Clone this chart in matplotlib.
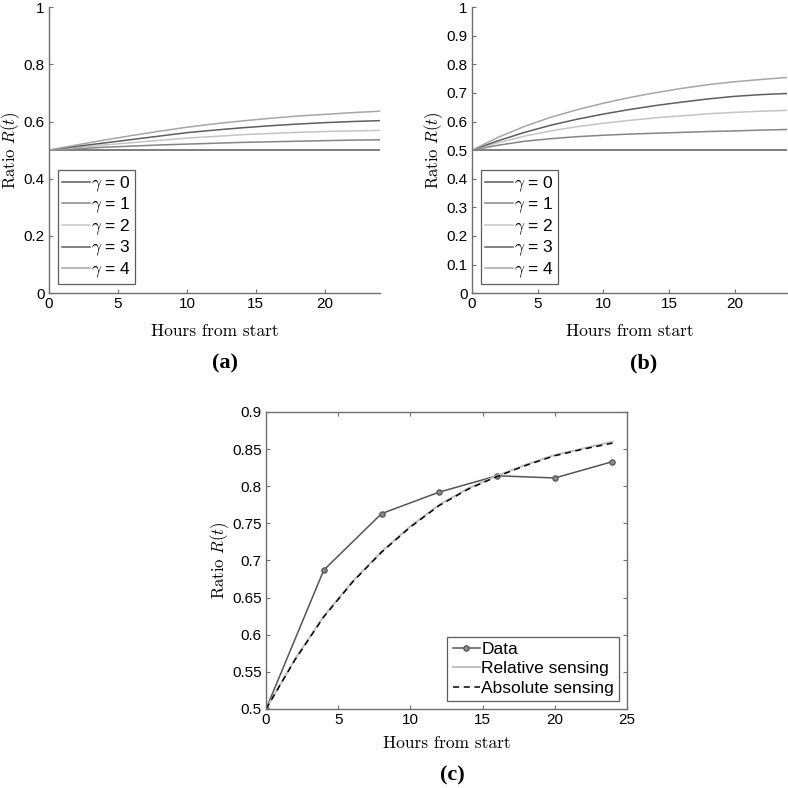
import matplotlib.pyplot as plt
import numpy as np

plt.rcParams['font.family'] = ['Liberation Sans', 'DejaVu Sans']
plt.rcParams['mathtext.fontset'] = 'cm'

# hours for the model curves
hours = [0, 2, 4, 6, 8, 10, 12, 14, 16, 18, 20, 22, 24]
gammas = [0, 1, 2, 3, 4]

# panel (a): R(t) for each gamma
ratio_a = [
    [0.5, 0.5, 0.5, 0.5, 0.5, 0.5, 0.5, 0.5, 0.5, 0.5, 0.5, 0.5, 0.5],
    [0.5, 0.505, 0.510, 0.514, 0.518, 0.521, 0.524, 0.527, 0.529, 0.531, 0.533, 0.535, 0.536],
    [0.5, 0.509, 0.518, 0.526, 0.534, 0.542, 0.548, 0.554, 0.558, 0.562, 0.565, 0.567, 0.569],
    [0.5, 0.513, 0.525, 0.537, 0.549, 0.561, 0.570, 0.578, 0.585, 0.591, 0.596, 0.600, 0.603],
    [0.5, 0.518, 0.535, 0.551, 0.566, 0.580, 0.592, 0.602, 0.611, 0.619, 0.625, 0.631, 0.636],
]

# panel (b): R(t) for each gamma
ratio_b = [
    [0.5, 0.5, 0.5, 0.5, 0.5, 0.5, 0.5, 0.5, 0.5, 0.5, 0.5, 0.5, 0.5],
    [0.5, 0.517, 0.531, 0.540, 0.547, 0.552, 0.556, 0.559, 0.562, 0.565, 0.567, 0.570, 0.572],
    [0.5, 0.526, 0.549, 0.567, 0.582, 0.594, 0.604, 0.613, 0.620, 0.627, 0.632, 0.636, 0.639],
    [0.5, 0.533, 0.562, 0.587, 0.608, 0.626, 0.642, 0.656, 0.668, 0.679, 0.688, 0.694, 0.698],
    [0.5, 0.545, 0.583, 0.615, 0.641, 0.664, 0.684, 0.701, 0.716, 0.729, 0.739, 0.747, 0.754],
]

# panel (c): measured data and model fits
data_hours = [0, 4, 8, 12, 16, 20, 24]
data_ratio = [0.5, 0.687, 0.763, 0.792, 0.814, 0.811, 0.833]
relative_fit = [0.5, 0.567, 0.625, 0.672, 0.712, 0.746, 0.775, 0.797, 0.814, 0.829, 0.842, 0.851, 0.860]
absolute_fit = [0.5, 0.566, 0.624, 0.671, 0.711, 0.745, 0.774, 0.796, 0.813, 0.828, 0.841, 0.850, 0.858]

gamma_colors = ['#5a5a5a', '#858585', '#c4c4c4', '#5e5e5e', '#a6a6a6']
axis_gray = '#6e6e6e'

fig = plt.figure(figsize=(7.88, 7.88), dpi=100)


def style_axes(ax, box=False):
    for side in ['left', 'bottom', 'top', 'right']:
        ax.spines[side].set_color(axis_gray)
        ax.spines[side].set_linewidth(1.0)
    if not box:
        ax.spines['top'].set_visible(False)
        ax.spines['right'].set_visible(False)
    ax.tick_params(direction='in', length=3, width=0.8, color=axis_gray,
                   labelsize=11, pad=3, top=box, right=box)
    ax.set_xlabel('Hours from start', fontfamily='cmr10', fontsize=12.5, labelpad=9)
    ax.set_ylabel('Ratio $R(t)$', fontfamily='cmr10', fontsize=12, labelpad=1)


def gamma_panel(rect, curves, yticks, ylabels):
    ax = fig.add_axes(rect)
    for g, vals, c in zip(gammas, curves, gamma_colors):
        ax.plot(hours, vals, color=c, lw=1.1, label=r'$\gamma$ = %d' % g)
    ax.set_xlim(0, 24)
    ax.set_ylim(0, 1)
    ax.set_xticks([0, 5, 10, 15, 20])
    ax.set_yticks(yticks)
    ax.set_yticklabels(ylabels)
    style_axes(ax)
    leg = ax.legend(loc='lower left', fontsize=12.5, frameon=True, fancybox=False,
                    handlelength=1.6, handletextpad=0.05, labelspacing=0.12,
                    borderpad=0.25, borderaxespad=0.5)
    leg.get_frame().set_edgecolor('#333333')
    leg.get_frame().set_linewidth(0.9)
    return ax


ax_a = gamma_panel([0.0622, 0.628, 0.420, 0.363], ratio_a,
                   [0, 0.2, 0.4, 0.6, 0.8, 1], ['0', '0.2', '0.4', '0.6', '0.8', '1'])
yt_b = [round(0.1 * i, 1) for i in range(11)]
ax_b = gamma_panel([0.599, 0.628, 0.400, 0.363], ratio_b,
                   yt_b, ['0'] + ['%g' % v for v in yt_b[1:-1]] + ['1'])

ax_c = fig.add_axes([0.3376, 0.1003, 0.458, 0.377])
ax_c.plot(data_hours, data_ratio, color='#555555', lw=1.1, marker='o', ms=3.8,
          mfc='#8a8a8a', mec='#555555', mew=0.9, label='Data')
ax_c.plot(hours, relative_fit, color='#c0c0c0', lw=1.4, label='Relative sensing')
ax_c.plot(hours, absolute_fit, color='black', lw=1.1, ls=(0, (4, 3)), label='Absolute sensing')
ax_c.set_xlim(0, 25)
ax_c.set_ylim(0.5, 0.9)
ax_c.set_xticks([0, 5, 10, 15, 20, 25])
yt_c = [0.5, 0.55, 0.6, 0.65, 0.7, 0.75, 0.8, 0.85, 0.9]
ax_c.set_yticks(yt_c)
ax_c.set_yticklabels(['%g' % v for v in yt_c])
style_axes(ax_c, box=True)
ax_c.xaxis.labelpad = 6
leg = ax_c.legend(loc='lower right', fontsize=12.5, frameon=True, fancybox=False,
                  handlelength=1.6, handletextpad=0.05, labelspacing=0.25,
                  borderpad=0.3, borderaxespad=0.45)
leg.get_frame().set_edgecolor('#333333')
leg.get_frame().set_linewidth(0.9)

for label, x, y in [('(a)', 225 / 788, 1 - 363 / 788),
                    ('(b)', 644 / 788, 1 - 363 / 788),
                    ('(c)', 452 / 788, 1 - 775 / 788)]:
    fig.text(x, y, label, ha='center', va='center', fontsize=16,
             fontweight='bold', fontfamily='Liberation Serif')

fig.savefig('out.png', dpi=100)
